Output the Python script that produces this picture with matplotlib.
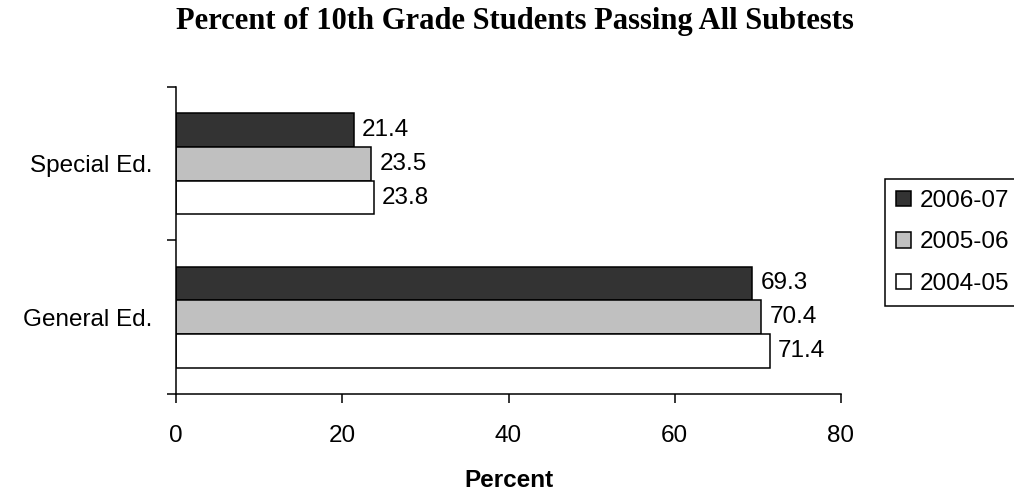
import matplotlib
matplotlib.use("Agg")
import matplotlib.pyplot as plt
import numpy as np

# ----------------------------
# DATA
# ----------------------------
groups = ["General Ed.", "Special Ed."]
years = ["2006-07", "2005-06", "2004-05"]
general_ed = [69.3, 70.4, 71.4]
special_ed = [21.4, 23.5, 23.8]
colors = ["#333333", "#c0c0c0", "#ffffff"]

plt.rcParams["font.family"] = ["Liberation Sans", "DejaVu Sans"]

fig = plt.figure(figsize=(10.14, 4.91), dpi=100)
ax = fig.add_axes([176 / 1014, 1 - 394 / 491, (841 - 176) / 1014, (394 - 87) / 491])

bar_h = 0.22
centers = np.array([0.5, 1.5])
values = np.array([general_ed, special_ed])  # rows: groups, cols: years

for j, year in enumerate(years):
    ypos = centers + bar_h * (1 - j)
    bars = ax.barh(ypos, values[:, j], height=bar_h, color=colors[j],
                   edgecolor="black", linewidth=1.1, label=year)
    for b in bars:
        w = b.get_width()
        ax.text(w + 1.0, b.get_y() + b.get_height() / 2, f"{w:.1f}",
                va="center", ha="left", fontsize=17.5)

ax.set_xlim(0, 80)
ax.set_ylim(0, 2)
ax.set_xticks([0, 20, 40, 60, 80])
ax.set_yticks([0, 1, 2])
ax.set_yticklabels([])
ax.set_yticks(centers, minor=True)
ax.set_yticklabels(groups, minor=True)
ax.tick_params(axis="y", which="minor", length=0, pad=17, labelsize=17.5)
ax.tick_params(axis="y", which="major", length=6.5, width=1.1, direction="out")
ax.tick_params(axis="x", length=6.5, width=1.1, direction="out", pad=16, labelsize=17.5)

for s in ["top", "right"]:
    ax.spines[s].set_visible(False)
for s in ["left", "bottom"]:
    ax.spines[s].set_linewidth(1.1)

ax.set_xlabel("Percent", fontsize=17.5, fontweight="bold", labelpad=16)

fig.text(515 / 1014, 1 - 29 / 491, "Percent of 10th Grade Students Passing All Subtests",
         ha="center", va="baseline", fontsize=22, fontweight="bold",
         family=["Liberation Serif", "DejaVu Serif"])

leg = fig.legend(loc="upper left", bbox_to_anchor=(885 / 1014, 1 - 179 / 491),
                 fontsize=17.5, frameon=True, fancybox=False, shadow=False,
                 handlelength=0.6, handleheight=0.6, handletextpad=0.4,
                 labelspacing=0.8, borderpad=0.45, borderaxespad=0)
leg.get_frame().set_edgecolor("black")
leg.get_frame().set_linewidth(1.1)
leg.get_frame().set_alpha(1)

fig.savefig("out.png", dpi=100)
